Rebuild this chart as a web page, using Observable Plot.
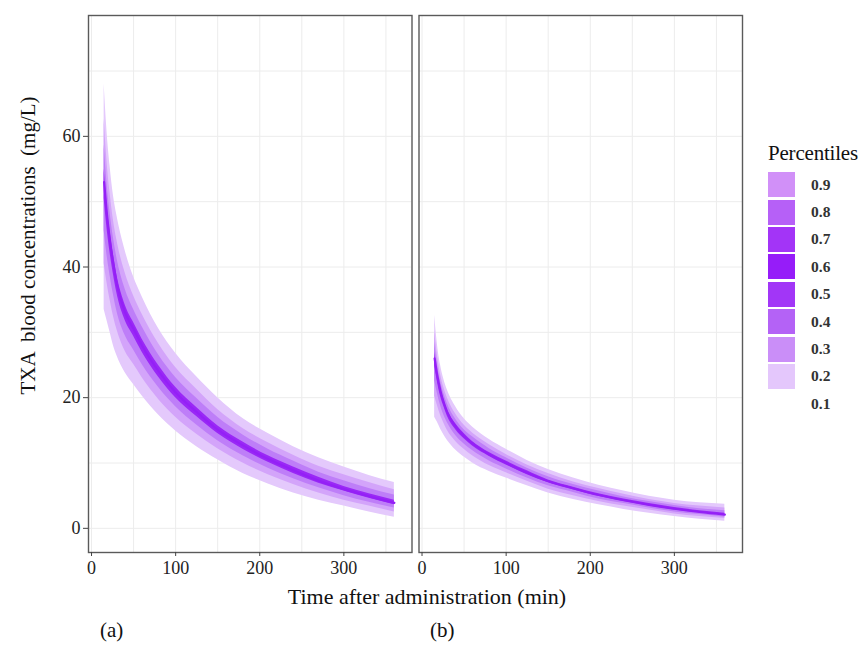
<!DOCTYPE html>
<html>
<head>
<meta charset="utf-8">
<script src="https://cdn.jsdelivr.net/npm/d3@7"></script>
<script src="https://cdn.jsdelivr.net/npm/@observablehq/plot@0.6"></script>
<style>
  body { margin: 0; background: #fff; }
  #wrap { position: relative; width: 866px; height: 648px; font-family: "Liberation Serif", "DejaVu Serif", serif; }
  #chart { position: absolute; left: 0; top: 0; }
  #legend { position: absolute; left: 768px; top: 141px; color: #111; }
  #legend .title { font-size: 21px; font-weight: normal; height: 30px; letter-spacing: -0.2px; }
  #legend .row { display: flex; align-items: center; height: 27.4px; }
  #legend .sw { width: 27px; height: 25px; }
  #legend .lab { font-size: 15.5px; margin-left: 16px; font-weight: bold; color: #333; }
</style>
</head>
<body>
<div id="wrap">
  <div id="chart"></div>
  <div id="legend"></div>
</div>
<script>
// ---- data ----
const times = [15, 18, 22, 26, 30, 40, 50, 60, 80, 100, 125, 150, 180, 210, 240, 270, 300, 330, 360];

// Panel (a)
const a_p10 = [33.5, 32, 30, 28, 26.5, 23.8, 22, 20.3, 17.3, 14.9, 12.5, 10.5, 8.4, 6.8, 5.4, 4.3, 3.4, 2.5, 1.7];
const a_p20 = [40.5, 37.9, 35.0, 32.5, 30.5, 27.1, 25.1, 23.1, 19.7, 17.0, 14.4, 12.2, 10.0, 8.2, 6.7, 5.4, 4.3, 3.4, 2.5];
const a_p30 = [45.6, 42.2, 38.7, 35.8, 33.3, 29.5, 27.3, 25.1, 21.5, 18.6, 15.8, 13.4, 11.1, 9.2, 7.6, 6.2, 5.0, 4.0, 3.1];
const a_p40 = [50.5, 46.4, 42.2, 38.9, 36.1, 31.8, 29.4, 27.0, 23.1, 20.0, 17.1, 14.5, 12.1, 10.1, 8.4, 6.9, 5.7, 4.6, 3.6];
const a_p50 = [53, 48.5, 44, 40.5, 37.5, 33, 30.5, 28, 24, 20.8, 17.8, 15.1, 12.7, 10.6, 8.9, 7.3, 6.0, 4.9, 3.9];
const a_p60 = [55.0, 50.2, 45.5, 41.9, 38.9, 34.2, 31.5, 29.0, 24.9, 21.6, 18.5, 15.7, 13.2, 11.1, 9.4, 7.8, 6.4, 5.3, 4.3];
const a_p70 = [58.7, 53.4, 48.4, 44.5, 41.5, 36.6, 33.5, 30.9, 26.5, 23.1, 19.9, 17.0, 14.3, 12.1, 10.3, 8.6, 7.3, 6.1, 5.1];
const a_p80 = [62.6, 56.8, 51.4, 47.2, 44.2, 39.1, 35.6, 32.8, 28.2, 24.6, 21.3, 18.2, 15.3, 13.1, 11.2, 9.5, 8.2, 7.0, 5.9];
const a_p90 = [68, 61.5, 55.5, 51, 48, 42.5, 38.5, 35.5, 30.5, 26.8, 23.2, 20, 16.8, 14.5, 12.5, 10.8, 9.4, 8.1, 7.0];

// Panel (b)
const b_p10 = [17, 16.3, 15.2, 14.3, 13.5, 12.0, 10.9, 10.0, 8.7, 7.7, 6.5, 5.4, 4.4, 3.6, 2.9, 2.3, 1.8, 1.4, 1.1];
const b_p20 = [20.2, 18.9, 17.3, 16.1, 15.0, 13.3, 12.1, 11.1, 9.6, 8.5, 7.2, 6.0, 5.0, 4.1, 3.4, 2.8, 2.2, 1.8, 1.5];
const b_p30 = [22.6, 20.8, 18.8, 17.3, 16.2, 14.2, 12.9, 11.9, 10.3, 9.1, 7.7, 6.5, 5.5, 4.5, 3.8, 3.1, 2.5, 2.1, 1.7];
const b_p40 = [24.8, 22.6, 20.2, 18.6, 17.2, 15.1, 13.7, 12.6, 11.0, 9.7, 8.2, 7.0, 5.9, 4.9, 4.1, 3.4, 2.8, 2.4, 2.0];
const b_p50 = [26, 23.5, 21, 19.2, 17.8, 15.6, 14.1, 13.0, 11.3, 10.0, 8.5, 7.2, 6.1, 5.1, 4.3, 3.6, 3.0, 2.5, 2.1];
const b_p60 = [26.9, 24.2, 21.5, 19.7, 18.2, 16.0, 14.5, 13.3, 11.6, 10.3, 8.8, 7.4, 6.3, 5.3, 4.5, 3.8, 3.2, 2.7, 2.3];
const b_p70 = [28.5, 25.4, 22.5, 20.6, 19.1, 16.7, 15.1, 14.0, 12.2, 10.8, 9.2, 7.9, 6.7, 5.7, 4.8, 4.1, 3.5, 3.0, 2.7];
const b_p80 = [30.2, 26.7, 23.6, 21.5, 20.0, 17.5, 15.8, 14.6, 12.8, 11.3, 9.7, 8.4, 7.1, 6.1, 5.2, 4.4, 3.8, 3.4, 3.1];
const b_p90 = [32.6, 28.5, 25, 22.8, 21.2, 18.6, 16.8, 15.5, 13.6, 12.1, 10.4, 9.0, 7.7, 6.6, 5.7, 4.9, 4.3, 3.9, 3.7];

const panels = ["a", "b"];
const panelLabels = ["(a)", "(b)"];
const xTicks = [0, 100, 200, 300];
const yTicks = [0, 20, 40, 60];
const gridX = [0, 50, 100, 150, 200, 250, 300, 350];
const gridY = [0, 10, 20, 30, 40, 50, 60, 70];
const xLabel = "Time after administration (min)";
const yLabel = "TXA \u00a0blood concentrations \u00a0(mg/L)";
const legendTitle = "Percentiles";
const legendLabels = ["0.9", "0.8", "0.7", "0.6", "0.5", "0.4", "0.3", "0.2", "0.1"];
const legendColors = ["#d190f8", "#b660f7", "#a334f7", "#961cf9", "#a236f7", "#b462f6", "#ca8ef8", "#e4c7fc", "#ffffff"];
const bandColors = ["#e4c9fc", "#d3a4fa", "#be7ef8", "#9a28f6"];
const medianColor = "#9420f6";

// ---- table ----
const series = {
  a: [a_p10, a_p20, a_p30, a_p40, a_p50, a_p60, a_p70, a_p80, a_p90],
  b: [b_p10, b_p20, b_p30, b_p40, b_p50, b_p60, b_p70, b_p80, b_p90]
};
const rows = [];
for (const p of panels) {
  const s = series[p];
  times.forEach((t, i) => {
    rows.push({panel: p, t, p10: s[0][i], p20: s[1][i], p30: s[2][i], p40: s[3][i], p50: s[4][i],
               p60: s[5][i], p70: s[6][i], p80: s[7][i], p90: s[8][i]});
  });
}

const bands = [["p10", "p90"], ["p20", "p80"], ["p30", "p70"], ["p40", "p60"]];

const chart = Plot.plot({
  width: 760,
  height: 648,
  marginLeft: 88,
  marginRight: 18,
  marginTop: 15,
  marginBottom: 96,
  style: {fontFamily: "Liberation Serif, DejaVu Serif, serif", fontSize: "18px", color: "#333", background: "#fff"},
  fx: {domain: panels, paddingInner: 7 / 330.5, paddingOuter: 0, round: false, axis: null},
  x: {domain: [-3.6, 381]},
  y: {domain: [-3.7, 78.5]},
  marks: [
    Plot.ruleX(gridX, {stroke: "#ececec", strokeWidth: 1}),
    Plot.ruleY(gridY, {stroke: "#ececec", strokeWidth: 1}),
    ...bands.map(([lo, hi], k) =>
      Plot.areaY(rows, {fx: "panel", x: "t", y1: lo, y2: hi, fill: bandColors[k], curve: "monotone-x"})
    ),
    Plot.lineY(rows, {fx: "panel", x: "t", y: "p50", z: "panel", stroke: medianColor, strokeWidth: 2.2, curve: "monotone-x"}),
    Plot.frame({stroke: "#5a5a5a", strokeWidth: 1.4}),
    Plot.axisX({ticks: xTicks, tickSize: 4, tickPadding: 5, label: null, fontSize: 18, stroke: "#444", fill: "#222"}),
    Plot.axisY({ticks: yTicks, tickSize: 5, tickPadding: 3, label: null, fontSize: 18, stroke: "#444", fill: "#222"}),
    Plot.text([{panel: "a"}], {fx: "panel", frameAnchor: "left", y: 43.3, dx: -60, rotate: -90, text: () => yLabel,
      fontSize: 21, fill: "#111", textAnchor: "middle"}),
    Plot.text([{panel: "a"}], {fx: "panel", frameAnchor: "bottom", x: 398.8, dy: 51, text: () => xLabel,
      fontSize: 22, fill: "#111", textAnchor: "middle"}),
    Plot.text(panels.map((p, i) => ({panel: p, label: panelLabels[i]})), {fx: "panel", frameAnchor: "bottom", x: 24, dy: 84,
      text: "label", fontSize: 21, fill: "#111"})
  ]
});
document.getElementById("chart").appendChild(chart);

// ---- legend ----
const leg = document.getElementById("legend");
const title = document.createElement("div");
title.className = "title";
title.textContent = legendTitle;
leg.appendChild(title);
legendLabels.forEach((lab, i) => {
  const row = document.createElement("div");
  row.className = "row";
  const sw = document.createElement("div");
  sw.className = "sw";
  sw.style.background = legendColors[i];
  const tx = document.createElement("div");
  tx.className = "lab";
  tx.textContent = lab;
  row.appendChild(sw);
  row.appendChild(tx);
  leg.appendChild(row);
});
</script>
</body>
</html>
